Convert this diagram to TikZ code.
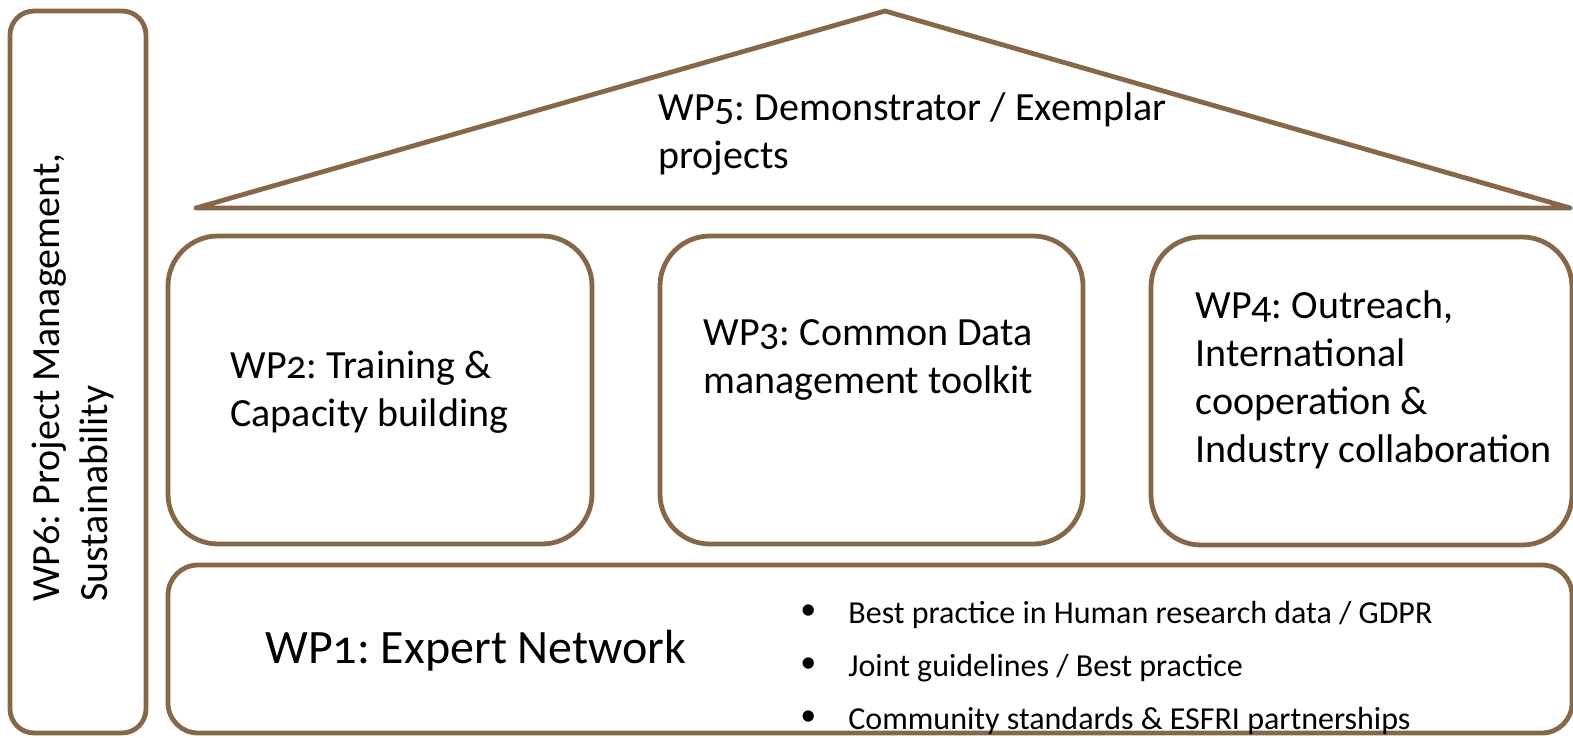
\documentclass[tikz,border=0pt]{standalone}
\usepackage{fontspec}
\setmainfont{Carlito}[Numbers=OldStyle]
\definecolor{wpbrown}{HTML}{866849}
\frenchspacing

\begin{document}
\begin{tikzpicture}[x=0.5pt,y=-0.5pt,
    wpbox/.style={draw=wpbrown, line width=2.4pt},
    wptext/.style={anchor=west, align=left, inner sep=0pt, font=\fontsize{20}{24}\selectfont},
    wpitem/.style={anchor=west, inner sep=0pt, font=\fontsize{16}{19}\selectfont}]
            \useasboundingbox (0,0) rectangle (1573,738);
            % left pillar
            \draw [wpbox, rounded corners=12] (10,11) rectangle (146,733);
            % roof
            \draw [wpbox, line join=round] (196,208) -- (885,11) -- (1570,208) -- cycle;
            % middle boxes
            \draw [wpbox, rounded corners=25] (168,236) rectangle (592,544);
            \draw [wpbox, rounded corners=25] (660,236) rectangle (1083,544);
            \draw [wpbox, rounded corners=25] (1151,237) rectangle (1572,545);
            % base
            \draw [wpbox, rounded corners=15] (168,565) rectangle (1572,733);
            \node [wptext, rotate=90] (wpsix) at (73,602) {WP6: Project Management,\\Sustainability};
            \node [wptext] (wpfive) at (658,134) {WP5: Demonstrator / Exemplar\\projects};
            \node [wptext] (wptwo) at (230,392) {WP2: Training \&\\Capacity building};
            \node [wptext] (wpthree) at (703,360) {WP3: Common Data\\management toolkit};
            \node [wptext] (wpfour) at (1195,380) {WP4: Outreach,\\International\\cooperation \&\\Industry collaboration};
            \node [wptext, font=\fontsize{24}{29}\selectfont] (wpone) at (265,651) {WP1: Expert Network};
            \node [wpitem] (dota) at (800,612) {\textbullet};
            \node [wpitem] (dotb) at (800,665) {\textbullet};
            \node [wpitem] (dotc) at (800,718) {\textbullet};
            \node [wpitem] (itema) at (848,615) {Best practice in Human research data / GDPR};
            \node [wpitem] (itemb) at (848,668) {Joint guidelines / Best practice};
            \node [wpitem] (itemc) at (848,721) {Community standards \& ESFRI partnerships};
        \end{tikzpicture}
\end{document}
